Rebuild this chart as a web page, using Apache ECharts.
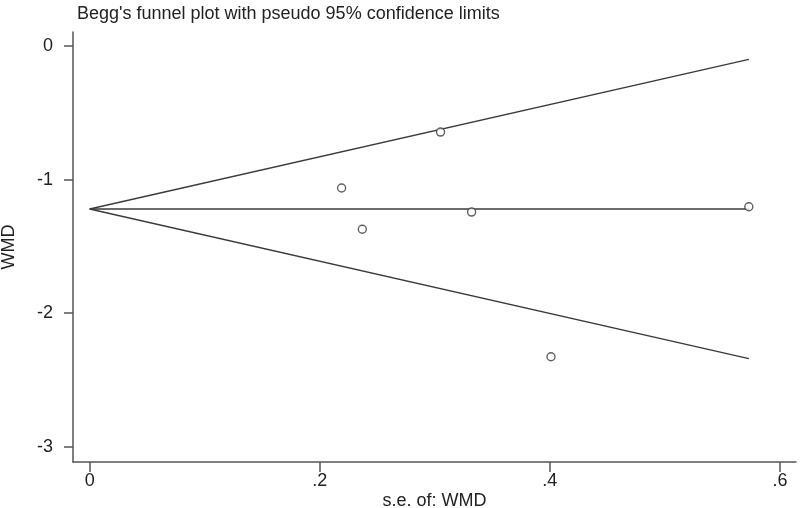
<!DOCTYPE html>
<html>
<head>
<meta charset="utf-8">
<script src="https://cdn.jsdelivr.net/npm/echarts@6/dist/echarts.min.js"></script>
<style>
html, body { margin: 0; padding: 0; background: #fff; }
#chart { width: 800px; height: 508px; }
</style>
</head>
<body>
<div id="chart"></div>
<script>
// study points: standard error and WMD
var seValues = [0.219, 0.237, 0.305, 0.332, 0.401, 0.573];
var wmdValues = [-1.063, -1.372, -0.644, -1.243, -2.326, -1.203];

// pooled estimate line and pseudo 95% limits (start / end)
var lineSe = [0, 0.573];
var pooled = [-1.22, -1.22];
var upperLimit = [-1.22, -0.10];
var lowerLimit = [-1.22, -2.34];

var xTicks = [0, 0.2, 0.4, 0.6];
var yTicks = [0, -1, -2, -3];

function pairs(xs, ys) {
    return xs.map(function (x, i) { return [x, ys[i]]; });
}

var ink = '#3a3a3a';
var font = 'Liberation Sans, Arial, sans-serif';

var chart = echarts.init(document.getElementById('chart'));
var option = {
    animation: false,
    backgroundColor: '#fff',
    title: {
        text: "Begg's funnel plot with pseudo 95% confidence limits",
        left: 72,
        top: 0,
        textStyle: { color: '#222', fontSize: 18, fontWeight: 'normal', fontFamily: font }
    },
    grid: { left: 73, right: 4, top: 32, bottom: 46, containLabel: false, outerBoundsMode: 'none' },
    xAxis: {
        type: 'value',
        min: -0.0145,
        max: 0.614,
        name: 's.e. of: WMD',
        nameLocation: 'middle',
        nameGap: 30,
        nameMoveOverlap: false,
        nameTextStyle: { color: '#222', fontSize: 18, fontFamily: font },
        axisLine: { show: true, onZero: false, lineStyle: { color: '#555', width: 1.5 } },
        axisTick: { show: true, length: 10, customValues: xTicks, lineStyle: { color: '#555', width: 1.5 } },
        axisLabel: {
            customValues: xTicks,
            margin: 10,
            color: '#222',
            fontSize: 18,
            fontFamily: font,
            formatter: function (v) { return v === 0 ? '0' : String(v).replace(/^0/, ''); }
        },
        splitLine: { show: false }
    },
    yAxis: {
        type: 'value',
        min: -3.114,
        max: 0.105,
        name: 'WMD',
        nameLocation: 'middle',
        nameGap: 55,
        nameMoveOverlap: false,
        nameTextStyle: { color: '#222', fontSize: 18, fontFamily: font },
        axisLine: { show: true, onZero: false, lineStyle: { color: '#555', width: 1.5 } },
        axisTick: { show: true, length: 9, customValues: yTicks, lineStyle: { color: '#555', width: 1.5 } },
        axisLabel: {
            customValues: yTicks,
            margin: 20,
            color: '#222',
            fontSize: 18,
            fontFamily: font
        },
        splitLine: { show: false }
    },
    series: [
        {
            type: 'line',
            data: pairs(lineSe, pooled),
            symbol: 'none',
            lineStyle: { color: ink, width: 1.3 }
        },
        {
            type: 'line',
            data: pairs(lineSe, upperLimit),
            symbol: 'none',
            lineStyle: { color: ink, width: 1.3 }
        },
        {
            type: 'line',
            data: pairs(lineSe, lowerLimit),
            symbol: 'none',
            lineStyle: { color: ink, width: 1.3 }
        },
        {
            type: 'scatter',
            data: pairs(seValues, wmdValues),
            symbol: 'circle',
            symbolSize: 8,
            itemStyle: { color: '#fff', borderColor: ink, borderWidth: 1.4 },
            z: 5
        }
    ]
};
chart.setOption(option);

window.onresize = function () {
    chart.resize();
};
</script>
</body>
</html>
